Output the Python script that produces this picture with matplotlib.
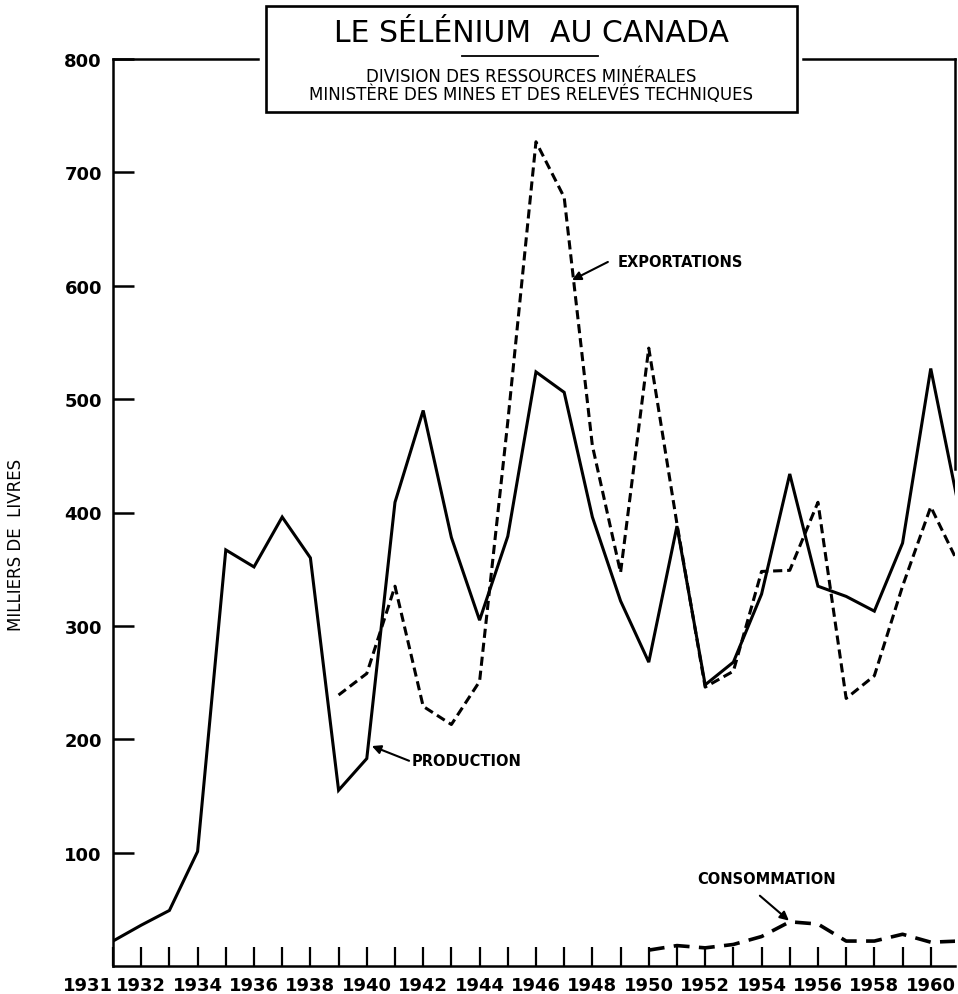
import matplotlib
matplotlib.use("Agg")
import matplotlib.pyplot as plt
from matplotlib.patches import Rectangle
from matplotlib.lines import Line2D

plt.rcParams['font.family'] = ['DejaVu Sans']

# Séries en milliers de livres
annees_prod = list(range(1931, 1962))
production = [22, 36, 49, 101, 367, 352, 396, 360, 155, 183, 409, 490, 378, 305, 379,
              524, 506, 396, 322, 268, 388, 248, 268, 328, 434, 335, 326, 313, 373, 527, 404]

annees_exp = list(range(1939, 1962))
exportations = [239, 258, 335, 229, 213, 251, 480, 727, 678, 459, 347, 545, 390, 246,
                260, 348, 349, 409, 236, 256, 335, 405, 354]

annees_cons = list(range(1950, 1962))
consommation = [14, 18, 16, 19, 26, 39, 37, 22, 22, 28, 21, 22]

y_ticks = [100, 200, 300, 400, 500, 600, 700, 800]
x_ticks = [1931, 1932, 1934, 1936, 1938, 1940, 1942, 1944, 1946, 1948, 1950,
           1952, 1954, 1956, 1958, 1960]

titre = "LE SÉLÉNIUM  AU CANADA"
sous_titre_1 = "DIVISION DES RESSOURCES MINÉRALES"
sous_titre_2 = "MINISTÈRE DES MINES ET DES RELEVÉS TECHNIQUES"

W, H = 958, 995
fig = plt.figure(figsize=(W / 100, H / 100), dpi=100)
ax = fig.add_axes([113 / W, 1 - 967 / H, (955 - 113) / W, (967 - 60) / H])

ax.plot(annees_prod, production, color='black', lw=2.2, solid_joinstyle='miter')
ax.plot(annees_exp, exportations, color='black', lw=2.2, dashes=(3, 1.6))
ax.plot(annees_cons, consommation, color='black', lw=2.6, dashes=(4.4, 2.6))

ax.set_xlim(1931, 1960.86)
ax.set_ylim(0, 800)

# axes
for s in ['left', 'bottom', 'right']:
    ax.spines[s].set_linewidth(1.8)
ax.spines['top'].set_visible(False)
ax.spines['right'].set_bounds(438, 800)
# ligne du haut interrompue par le cartouche
for x0, x1 in [(0, (258 - 113) / 842), ((803 - 113) / 842, 1)]:
    ax.add_line(Line2D([x0, x1], [1, 1], transform=ax.transAxes, color='black',
                       lw=1.8, clip_on=False))

ax.set_yticks(y_ticks)
ax.set_yticklabels([str(v) for v in y_ticks])
ax.tick_params(axis='y', direction='in', length=15, width=1.8, pad=8,
               labelsize=13, right=False)
ax.set_xticks(list(range(1931, 1961)), minor=True)
ax.set_xticks(x_ticks)
ax.set_xticklabels([str(v) for v in x_ticks])
ax.tick_params(axis='x', which='both', direction='in', length=13.5, width=1.6,
               labelsize=13, pad=7, top=False)
for lab in ax.get_yticklabels() + ax.get_xticklabels():
    lab.set_fontweight('bold')
ax.get_xticklabels()[0].set_horizontalalignment('right')

ax.set_ylabel("MILLIERS DE  LIVRES", fontsize=12)
ax.yaxis.set_label_coords(-88 / 842, 0.465)

# annotations des courbes
fleche = dict(arrowstyle='-|>', lw=1.5, color='black', mutation_scale=13,
              shrinkA=0, shrinkB=0)
ax.annotate("", xy=(1947.28, 605), xytext=(1948.55, 621), arrowprops=fleche)
ax.text(1948.9, 621, "EXPORTATIONS", fontsize=10.5, fontweight='bold', va='center')
ax.annotate("", xy=(1940.18, 194), xytext=(1941.5, 181), arrowprops=fleche)
ax.text(1941.6, 181, "PRODUCTION", fontsize=10.5, fontweight='bold', va='center')
ax.annotate("", xy=(1954.97, 40), xytext=(1953.94, 62), arrowprops=fleche)
ax.text(1954.19, 71, "CONSOMMATION", fontsize=10.5, fontweight='bold',
        va='bottom', ha='center')

# cartouche du titre
fig.add_artist(Rectangle((266 / W, 1 - 113 / H), (797 - 266) / W, (113 - 7) / H,
                         transform=fig.transFigure, fill=False, lw=1.9,
                         edgecolor='black'))
cx = 531 / W
fig.text(cx, 1 - 34 / H, titre, fontsize=21.5, ha='center', va='center')
fig.add_artist(Line2D([462 / W, 598 / W], [1 - 57 / H, 1 - 57 / H],
                      transform=fig.transFigure, color='black', lw=1.3))
fig.text(cx, 1 - 77 / H, sous_titre_1, fontsize=12, ha='center', va='center')
fig.text(cx, 1 - 95 / H, sous_titre_2, fontsize=12, ha='center', va='center')

fig.savefig("out.png", dpi=100)
